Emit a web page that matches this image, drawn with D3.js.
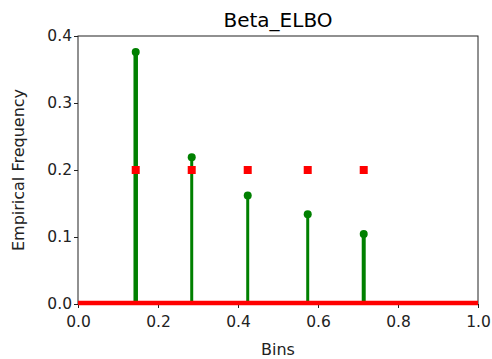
<!DOCTYPE html>
<html>
<head>
<meta charset="utf-8">
<script src="https://cdn.jsdelivr.net/npm/d3@7"></script>
<style>
body { margin: 0; background: #fff; }
text { font-family: "DejaVu Sans", sans-serif; }
</style>
</head>
<body>
<div id="chart"></div>
<script>
// bin centres and frequencies
var bins = [0.1443, 0.2843, 0.4243, 0.5743, 0.7143];
var freqs = [0.376, 0.219, 0.162, 0.134, 0.1045];
var stemWidths = [4.5, 3, 3, 3, 4];
var refLevel = [0.2, 0.2, 0.2, 0.2, 0.2];
var xTicks = [0, 0.2, 0.4, 0.6, 0.8, 1.0];
var yTicks = [0, 0.1, 0.2, 0.3, 0.4];

var w = 492, h = 359;
var margin = {top: 36, right: 14, bottom: 55, left: 78};
var width = w - margin.left - margin.right,
    height = h - margin.top - margin.bottom;

var svg = d3.select("#chart").append("svg")
    .attr("width", w)
    .attr("height", h);

var x = d3.scaleLinear().domain([0, 1]).range([0, width]);
var y = d3.scaleLinear().domain([0, 0.4]).range([height, 0]);

var main = svg.append("g")
    .attr("transform", "translate(" + margin.left + "," + margin.top + ")");

// stems
main.selectAll(".stem")
    .data(bins)
    .enter().append("line")
    .attr("class", "stem")
    .attr("x1", function(d) { return x(d); })
    .attr("x2", function(d) { return x(d); })
    .attr("y1", y(0))
    .attr("y2", function(d, i) { return y(freqs[i]); })
    .style("stroke", "green")
    .style("stroke-width", function(d, i) { return stemWidths[i]; });

main.selectAll(".head")
    .data(bins)
    .enter().append("circle")
    .attr("class", "head")
    .attr("cx", function(d) { return x(d); })
    .attr("cy", function(d, i) { return y(freqs[i]); })
    .attr("r", 4)
    .style("fill", "green");

// reference squares
main.selectAll(".sq")
    .data(bins)
    .enter().append("rect")
    .attr("class", "sq")
    .attr("x", function(d) { return x(d) - 4; })
    .attr("y", function(d, i) { return y(refLevel[i]) - 4; })
    .attr("width", 8)
    .attr("height", 8)
    .style("fill", "red");

// axes
var xAxis = d3.axisBottom(x).tickValues(xTicks).tickFormat(d3.format(".1f")).tickSize(4).tickSizeOuter(0);
var yAxis = d3.axisLeft(y).tickValues(yTicks).tickFormat(d3.format(".1f")).tickSize(4).tickSizeOuter(0);

var gx = main.append("g")
    .attr("transform", "translate(0," + height + ")")
    .call(xAxis);
var gy = main.append("g").call(yAxis);

[gx, gy].forEach(function(g) {
    g.selectAll("text").style("font-size", "15.5px").style("fill", "#222");
    g.selectAll("line").style("stroke", "#222");
    g.select(".domain").remove();
});
gx.selectAll("text").attr("y", 7).attr("dy", "1em");
gy.selectAll("text").attr("x", -6);

// frame
main.append("rect")
    .attr("width", width)
    .attr("height", height)
    .style("fill", "none")
    .style("stroke", "#222")
    .style("stroke-width", 1);

// red baseline
main.append("line")
    .attr("x1", 0)
    .attr("x2", width)
    .attr("y1", y(0) - 1)
    .attr("y2", y(0) - 1)
    .style("stroke", "red")
    .style("stroke-width", 4.5);

// labels
svg.append("text")
    .attr("x", margin.left + width / 2)
    .attr("y", 27)
    .style("text-anchor", "middle")
    .style("font-size", "20px")
    .text("Beta_ELBO");

svg.append("text")
    .attr("x", margin.left + width / 2)
    .attr("y", 355)
    .style("text-anchor", "middle")
    .style("font-size", "16px")
    .style("fill", "#222")
    .text("Bins");

svg.append("text")
    .attr("transform", "rotate(-90)")
    .attr("x", -(margin.top + height / 2))
    .attr("y", 24)
    .style("text-anchor", "middle")
    .style("font-size", "16px")
    .style("fill", "#222")
    .text("Empirical Frequency");
</script>
</body>
</html>
